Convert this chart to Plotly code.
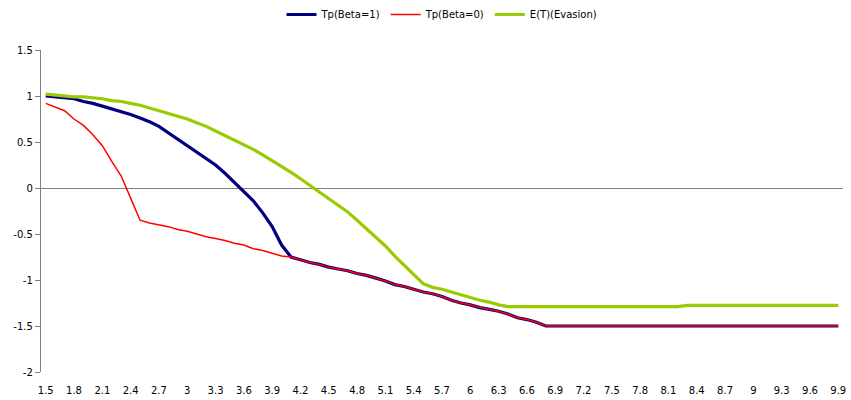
import plotly.graph_objects as go

categories = ["1.5","1.6","1.7","1.8","1.9","2","2.1","2.2","2.3","2.4",
              "2.5","2.6","2.7","2.8","2.9","3","3.1","3.2","3.3","3.4",
              "3.5","3.6","3.7","3.8","3.9","4","4.1","4.2","4.3","4.4",
              "4.5","4.6","4.7","4.8","4.9","5","5.1","5.2","5.3","5.4",
              "5.5","5.6","5.7","5.8","5.9","6","6.1","6.2","6.3","6.4",
              "6.5","6.6","6.7","6.8","6.9","7","7.1","7.2","7.3","7.4",
              "7.5","7.6","7.7","7.8","7.9","8","8.1","8.2","8.3","8.4",
              "8.5","8.6","8.7","8.8","8.9","9","9.1","9.2","9.3","9.4",
              "9.5","9.6","9.7","9.8","9.9"]

tp_beta1 = [1.00, 0.99, 0.98, 0.97, 0.94, 0.92, 0.89, 0.86, 0.83, 0.80,
            0.76, 0.72, 0.67, 0.60, 0.53, 0.47, 0.40, 0.33, 0.25, 0.16,
            0.06, -0.04, -0.14, -0.27, -0.42, -0.62, -0.75, -0.78, -0.81, -0.83,
            -0.86, -0.88, -0.90, -0.93, -0.95, -0.98, -1.01, -1.05, -1.07, -1.10,
            -1.13, -1.15, -1.18, -1.22, -1.25, -1.27, -1.30, -1.32, -1.34, -1.37,
            -1.41, -1.43, -1.46, -1.50, -1.50, -1.50, -1.50, -1.50, -1.50, -1.50,
            -1.50, -1.50, -1.50, -1.50, -1.50, -1.50, -1.50, -1.50, -1.50, -1.50,
            -1.50, -1.50, -1.50, -1.50, -1.50, -1.50, -1.50, -1.50, -1.50, -1.50,
            -1.50, -1.50, -1.50, -1.50, -1.50]

tp_beta0 = [0.92, 0.88, 0.84, 0.75, 0.68, 0.58, 0.46, 0.29, 0.13, -0.11,
            -0.35, -0.38, -0.40, -0.42, -0.45, -0.47, -0.50, -0.53, -0.55, -0.57,
            -0.60, -0.62, -0.66, -0.68, -0.71, -0.74, -0.75, -0.78, -0.81, -0.83,
            -0.86, -0.88, -0.90, -0.93, -0.95, -0.98, -1.01, -1.05, -1.07, -1.10,
            -1.13, -1.15, -1.18, -1.22, -1.25, -1.27, -1.30, -1.32, -1.34, -1.37,
            -1.41, -1.43, -1.46, -1.50, -1.50, -1.50, -1.50, -1.50, -1.50, -1.50,
            -1.50, -1.50, -1.50, -1.50, -1.50, -1.50, -1.50, -1.50, -1.50, -1.50,
            -1.50, -1.50, -1.50, -1.50, -1.50, -1.50, -1.50, -1.50, -1.50, -1.50,
            -1.50, -1.50, -1.50, -1.50, -1.50]

et_evasion = [1.02, 1.01, 1.00, 0.99, 0.99, 0.98, 0.97, 0.95, 0.94, 0.92,
              0.90, 0.87, 0.84, 0.81, 0.78, 0.75, 0.71, 0.67, 0.62, 0.57,
              0.52, 0.47, 0.42, 0.36, 0.30, 0.24, 0.17, 0.10, 0.03, -0.04,
              -0.11, -0.18, -0.26, -0.35, -0.44, -0.53, -0.63, -0.74, -0.84, -0.94,
              -1.04, -1.08, -1.10, -1.13, -1.16, -1.19, -1.22, -1.24, -1.27, -1.29,
              -1.29, -1.29, -1.29, -1.29, -1.29, -1.29, -1.29, -1.29, -1.29, -1.29,
              -1.29, -1.29, -1.29, -1.29, -1.29, -1.29, -1.29, -1.29, -1.275, -1.275,
              -1.275, -1.275, -1.275, -1.275, -1.275, -1.275, -1.275, -1.275, -1.275, -1.275,
              -1.275, -1.275, -1.275, -1.275, -1.275]

x_tick_labels = ["1.5","1.8","2.1","2.4","2.7","3","3.3","3.6","3.9","4.2",
                 "4.5","4.8","5.1","5.4","5.7","6","6.3","6.6","6.9","7.2",
                 "7.5","7.8","8.1","8.4","8.7","9","9.3","9.6","9.9"]
y_ticks = [-2, -1.5, -1, -0.5, 0, 0.5, 1, 1.5]

FONT = "DejaVu Sans"

fig = go.Figure()
fig.add_trace(go.Scatter(x=categories, y=tp_beta1, mode="lines", name="Tp(Beta=1)",
                         line=dict(color="#000080", width=3.2)))
fig.add_trace(go.Scatter(x=categories, y=tp_beta0, mode="lines", name="Tp(Beta=0)",
                         line=dict(color="#FF0000", width=1.5)))
fig.add_trace(go.Scatter(x=categories, y=et_evasion, mode="lines", name="E(T)(Evasion)",
                         line=dict(color="#99CC00", width=3.2)))

fig.update_layout(
    width=851, height=400,
    margin=dict(l=41, r=8, t=50, b=28),
    paper_bgcolor="white", plot_bgcolor="white",
    font=dict(family=FONT, size=10, color="black"),
    showlegend=True,
    legend=dict(orientation="h", x=0.5, xanchor="center", xref="paper",
                y=1.0, yref="container", yanchor="top",
                font=dict(family=FONT, size=10, color="black"),
                itemwidth=30, tracegroupgap=0),
    xaxis=dict(type="category", categoryorder="array", categoryarray=categories,
               range=[-0.5, len(categories) - 0.5], automargin=False,
               tickmode="array", tickvals=x_tick_labels, ticktext=x_tick_labels,
               showgrid=False, zeroline=False, showline=False,
               ticks="outside", ticklen=9, tickcolor="white",
               tickfont=dict(family=FONT, size=10, color="black")),
    yaxis=dict(range=[-2, 1.5], tickmode="array", tickvals=y_ticks, automargin=False,
               ticktext=[str(v) for v in y_ticks],
               showgrid=False, zeroline=True, zerolinecolor="#808080", zerolinewidth=1.3,
               showline=True, linecolor="#808080", linewidth=1.3,
               ticks="outside", ticklen=5, tickcolor="#808080",
               tickfont=dict(family=FONT, size=10, color="black")),
)

fig.write_html("out.html", config={"displayModeBar": False},
               post_script="document.body.style.margin='0';")
